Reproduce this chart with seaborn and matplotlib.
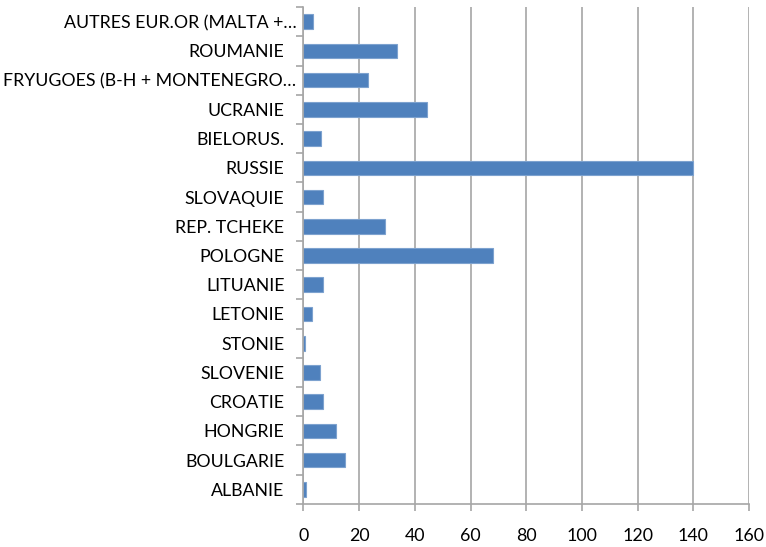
import matplotlib
matplotlib.use("Agg")
import matplotlib.pyplot as plt
from matplotlib.ticker import FixedLocator
from matplotlib.transforms import ScaledTranslation
import seaborn as sns
import pandas as pd

countries = [
    "AUTRES EUR.OR (MALTA +…", "ROUMANIE", "FRYUGOES (B-H + MONTENEGRO…",
    "UCRANIE", "BIELORUS.", "RUSSIE", "SLOVAQUIE", "REP. TCHEKE", "POLOGNE",
    "LITUANIE", "LETONIE", "STONIE", "SLOVENIE", "CROATIE", "HONGRIE",
    "BOULGARIE", "ALBANIE",
]
values = [3.6, 33.5, 23.2, 44.5, 6.5, 140, 7, 29.3, 68, 7, 3.1, 0.5, 6, 7, 11.7, 15.1, 0.8]
x_ticks = [0, 20, 40, 60, 80, 100, 120, 140, 160]

df = pd.DataFrame({"pays": countries, "valeur": values})

sns.set_theme(style="white")
plt.rcParams["font.family"] = ["Lato", "DejaVu Sans"]

fig = plt.figure(figsize=(7.66, 5.47), dpi=100)
ax = fig.add_axes([0.396, 0.0787, 0.582, 0.9083])

sns.barplot(data=df, x="valeur", y="pays", orient="h", color="#4F81BD",
            saturation=1, width=0.5, edgecolor="#7DA2CF", linewidth=0.8, ax=ax)

ax.set_xlim(0, 160)
ax.set_ylim(len(countries) - 0.5, -0.5)
ax.set_xticks(x_ticks)
ax.set_xlabel("")
ax.set_ylabel("")

grid_c = "#A6A6A6"
ax.grid(axis="x", color=grid_c, linewidth=1.2)
ax.set_axisbelow(True)
for side in ("top", "right"):
    ax.spines[side].set_visible(False)
for side in ("left", "bottom"):
    ax.spines[side].set_color(grid_c)
    ax.spines[side].set_linewidth(1.2)

# category separators as outward tick marks on the y axis
ax.yaxis.set_minor_locator(FixedLocator([i - 0.5 for i in range(len(countries) + 1)]))
ax.tick_params(axis="y", which="major", length=0, pad=5, labelsize=12.8, labelcolor="#000000")
ax.tick_params(axis="y", which="minor", length=5, width=1.2, color=grid_c, left=True)
ax.tick_params(axis="x", which="major", length=5, width=1.2, color=grid_c, pad=12,
               labelsize=12.8, labelcolor="#000000", bottom=True)

# full names sit a little further from the axis than the truncated ones
shift = ScaledTranslation(-12 / 100, 0, fig.dpi_scale_trans)
for lab in ax.get_yticklabels():
    if not lab.get_text().endswith("…"):
        lab.set_transform(lab.get_transform() + shift)

fig.savefig("out.png", dpi=100)
